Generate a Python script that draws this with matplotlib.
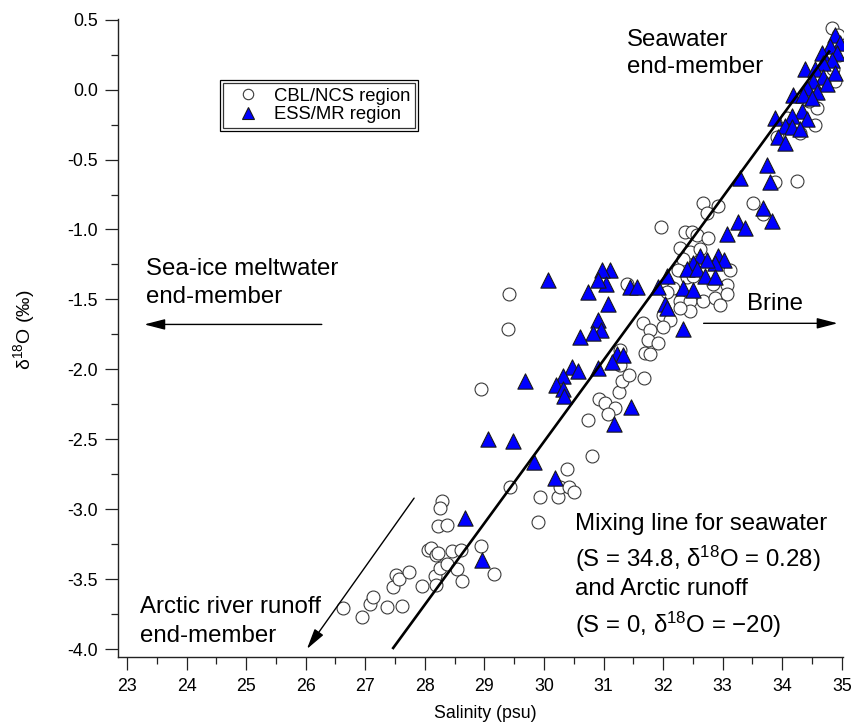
import matplotlib
matplotlib.use('Agg')
import matplotlib.pyplot as plt
import numpy as np
from matplotlib.lines import Line2D
from matplotlib.patches import Rectangle
from matplotlib.ticker import MultipleLocator, FormatStrFormatter

plt.rcParams['font.family'] = ['Liberation Sans', 'DejaVu Sans']
plt.rcParams['mathtext.fontset'] = 'custom'
plt.rcParams['mathtext.rm'] = 'Liberation Sans'
plt.rcParams['mathtext.it'] = 'Liberation Sans:italic'
plt.rcParams['mathtext.bf'] = 'Liberation Sans:bold'
plt.rcParams['axes.unicode_minus'] = False

# ---------------- data ----------------
cbl_salinity = [
    26.63, 26.94, 27.08, 27.13, 27.36, 27.46, 27.51, 27.57, 27.73, 27.62,
    27.95, 28.05, 28.29, 28.25, 28.22, 28.37, 28.10, 28.19, 28.22, 28.45,
    28.61, 28.94, 28.17, 28.25, 28.37, 28.54, 28.62, 28.19, 29.16, 29.90,
    28.94, 29.43, 29.93, 30.23, 30.27, 30.39, 30.42, 30.50, 30.80, 30.74,
    30.92, 31.02, 31.19, 31.07, 31.26, 31.31, 31.43, 31.68, 31.27, 29.41,
    29.39, 31.39, 31.27,
    31.96, 32.67, 32.73, 32.92, 33.51, 33.67, 32.37, 32.48, 32.57, 32.75,
    32.28, 32.45, 32.62, 32.33, 32.25, 32.40, 32.50, 33.12, 33.07, 32.84,
    32.16, 32.06, 32.28, 32.45, 32.67, 32.87, 33.07, 32.95, 32.45, 32.28,
    32.00, 32.11, 31.66, 31.78, 32.00, 31.74, 31.91, 31.69, 31.78,
    34.83, 34.93, 34.88, 34.58, 34.30, 33.91, 33.88, 34.25, 34.41, 34.08,
    34.95, 34.85, 34.70, 34.45, 34.55,
]
cbl_d18o = [
    -3.71, -3.77, -3.68, -3.63, -3.70, -3.56, -3.47, -3.50, -3.45, -3.69,
    -3.55, -3.29, -2.94, -2.99, -3.12, -3.11, -3.28, -3.33, -3.31, -3.30,
    -3.29, -3.26, -3.48, -3.42, -3.39, -3.43, -3.51, -3.54, -3.46, -3.09,
    -2.14, -2.84, -2.91, -2.91, -2.84, -2.71, -2.84, -2.88, -2.62, -2.36,
    -2.21, -2.24, -2.28, -2.32, -2.16, -2.08, -2.04, -2.06, -1.97, -1.46,
    -1.71, -1.39, -1.86,
    -0.98, -0.81, -0.88, -0.83, -0.81, -0.89, -1.02, -1.02, -1.04, -1.06,
    -1.13, -1.16, -1.14, -1.21, -1.29, -1.34, -1.33, -1.29, -1.40, -1.39,
    -1.42, -1.45, -1.51, -1.51, -1.51, -1.49, -1.46, -1.54, -1.58, -1.56,
    -1.61, -1.65, -1.67, -1.72, -1.70, -1.79, -1.81, -1.88, -1.89,
    0.44, 0.39, 0.06, -0.13, -0.31, -0.34, -0.66, -0.65, -0.03, -0.20,
    0.25, 0.15, 0.05, -0.08, -0.25,
]

ess_salinity = [
    34.88, 34.97, 34.80, 34.67, 34.92, 34.83, 34.68, 34.38, 34.55, 34.88,
    34.68, 34.51, 34.75, 34.41, 34.58, 34.18, 34.35, 34.50, 34.33, 34.16,
    34.41, 33.88, 34.04, 34.16, 34.30, 33.93, 34.04, 33.74, 33.79, 33.29,
    33.67, 33.83, 33.26, 33.37, 33.07,
    32.92, 33.02, 32.87, 32.62, 32.50, 32.73, 32.40, 32.57, 32.70, 32.87,
    32.06, 31.91, 32.33, 32.50, 32.03, 32.06, 32.33, 31.44, 31.56, 31.11,
    30.97, 31.04, 31.07, 31.22, 31.33,
    30.07, 30.91, 30.74, 30.91, 30.96, 30.82, 30.60, 30.47, 30.57, 30.32,
    30.20, 30.32, 30.33, 29.68, 30.91, 31.14, 31.46, 31.17, 29.06, 29.48,
    29.83, 30.18, 28.67, 28.96,
]
ess_d18o = [
    0.39, 0.33, 0.31, 0.26, 0.26, 0.21, 0.19, 0.15, 0.15, 0.12,
    0.09, 0.06, 0.04, 0.01, -0.02, -0.04, -0.04, -0.06, -0.15, -0.19,
    -0.21, -0.20, -0.26, -0.27, -0.28, -0.34, -0.38, -0.54, -0.66, -0.63,
    -0.85, -0.94, -0.95, -0.99, -1.03,
    -1.19, -1.22, -1.24, -1.19, -1.24, -1.22, -1.28, -1.28, -1.33, -1.34,
    -1.33, -1.41, -1.42, -1.43, -1.53, -1.56, -1.71, -1.41, -1.41, -1.29,
    -1.29, -1.39, -1.53, -1.89, -1.90,
    -1.36, -1.36, -1.45, -1.65, -1.72, -1.74, -1.77, -1.98, -2.01, -2.05,
    -2.11, -2.14, -2.19, -2.08, -1.99, -1.95, -2.27, -2.39, -2.50, -2.51,
    -2.66, -2.78, -3.06, -3.36,
]

# mixing end-members
seawater_S, seawater_d = 34.8, 0.28
runoff_S, runoff_d = 0.0, -20.0

x_ticks = [23, 24, 25, 26, 27, 28, 29, 30, 31, 32, 33, 34, 35]
y_ticks = [-4.0, -3.5, -3.0, -2.5, -2.0, -1.5, -1.0, -0.5, 0.0, 0.5]

# ---------------- figure ----------------
W, H = 857, 724
fig = plt.figure(figsize=(W / 100, H / 100), dpi=100)
ax = fig.add_axes([118 / W, (H - 657) / H, (843 - 118) / W, (657 - 19) / H])

ax.scatter(cbl_salinity, cbl_d18o, s=9.3 ** 2, marker='o', facecolors='white',
           edgecolors='#3a3a3a', linewidths=0.8, zorder=2)
ax.scatter(ess_salinity, ess_d18o, s=11.0 ** 2, marker='^', facecolors='#0000ff',
           edgecolors='#1a1a1a', linewidths=0.8, zorder=3)

# mixing line
slope = (seawater_d - runoff_d) / (seawater_S - runoff_S)
s_start = (-4.0 - runoff_d) / slope
s_line = np.array([s_start, seawater_S])
ax.plot(s_line, runoff_d + slope * s_line, color='black', lw=1.9, zorder=4,
        solid_capstyle='butt')

ax.set_xlim(22.849, 35.02)
ax.set_ylim(-4.057, 0.505)
ax.set_xticks(x_ticks)
ax.set_yticks(y_ticks)
ax.xaxis.set_minor_locator(MultipleLocator(0.5))
ax.yaxis.set_minor_locator(MultipleLocator(0.25))
ax.yaxis.set_major_formatter(FormatStrFormatter('%.1f'))
for sp in ['top', 'right']:
    ax.spines[sp].set_visible(False)
for sp in ['left', 'bottom']:
    ax.spines[sp].set_linewidth(1.0)
    ax.spines[sp].set_color('#222222')
ax.tick_params(which='major', direction='out', length=9.4, width=0.9,
               labelsize=12.8, pad=5, color='#222222')
ax.tick_params(which='minor', direction='out', length=5, width=0.9, color='#222222')
ax.tick_params(axis='x', which='major', pad=6)

fig.text(485 / W, 1 - 713 / H, 'Salinity (psu)', ha='center', va='center', fontsize=12.8)
fig.text(24 / W, 1 - 330 / H, 'δ$^{18}$O (‰)', ha='center', va='center',
         rotation=90, fontsize=14)

# annotations
fs = 17.3
ax.text(31.39, 0.314, 'Seawater', fontsize=fs, ha='left', va='baseline')
ax.text(31.39, 0.121, 'end-member', fontsize=fs, ha='left', va='baseline')
ax.text(23.32, -1.329, 'Sea-ice meltwater', fontsize=fs, ha='left', va='baseline')
ax.text(23.32, -1.529, 'end-member', fontsize=fs, ha='left', va='baseline')
ax.text(33.41, -1.579, 'Brine', fontsize=fs, ha='left', va='baseline')
ax.text(23.22, -3.743, 'Arctic river runoff', fontsize=fs, ha='left', va='baseline')
ax.text(23.22, -3.95, 'end-member', fontsize=fs, ha='left', va='baseline')
ax.text(30.52, -3.15, 'Mixing line for seawater', fontsize=fs, ha='left', va='baseline')
ax.text(30.52, -3.414, '(S = 34.8, δ$^{18}$O = 0.28)', fontsize=fs, ha='left', va='baseline')
ax.text(30.52, -3.614, 'and Arctic runoff', fontsize=fs, ha='left', va='baseline')
ax.text(30.52, -3.886, '(S = 0, δ$^{18}$O = −20)', fontsize=fs, ha='left', va='baseline')

arrow_kw = dict(arrowstyle='-|>,head_length=0.7,head_width=0.18', color='black',
                lw=1.0, shrinkA=0, shrinkB=0, mutation_scale=18)
ax.annotate('', xy=(23.29, -1.679), xytext=(26.27, -1.679), arrowprops=arrow_kw)
ax.annotate('', xy=(34.93, -1.671), xytext=(32.68, -1.671), arrowprops=arrow_kw)
ax.annotate('', xy=(26.02, -4.0), xytext=(27.82, -2.921), arrowprops=arrow_kw)

# legend
handles = [
    Line2D([], [], ls='none', marker='o', ms=7.5, mfc='white', mec='#3a3a3a', mew=0.8),
    Line2D([], [], ls='none', marker='^', ms=9.0, mfc='#0000ff', mec='#1a1a1a', mew=0.8),
]
leg = ax.legend(handles, ['CBL/NCS region', 'ESS/MR region'], loc='upper left',
                bbox_to_anchor=(223 / W, 1 - 83 / H), bbox_transform=fig.transFigure,
                frameon=True, fancybox=False, fontsize=13.3, borderpad=0.25,
                labelspacing=0.1, handlelength=2.2, handletextpad=0.3,
                borderaxespad=0)
leg.get_frame().set_edgecolor('black')
leg.get_frame().set_linewidth(0.9)

fig.canvas.draw()
bb = leg.get_window_extent()
pad = 3
rect = Rectangle(((bb.x0 - pad) / W, (bb.y0 - pad) / H), (bb.width + 2 * pad) / W,
                 (bb.height + 2 * pad) / H, transform=fig.transFigure, fill=False,
                 edgecolor='black', lw=0.9, zorder=10)
fig.add_artist(rect)

fig.savefig('out.png', dpi=100)
